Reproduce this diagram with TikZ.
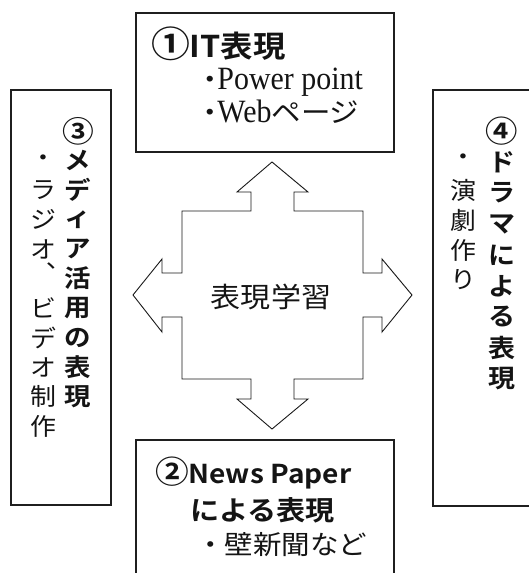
\documentclass[tikz,border=0pt]{standalone}
\usepackage{fontspec}
\newfontfamily\jp[FakeStretch=1.08,BoldFont={Noto Sans CJK JP Bold}]{Noto Sans CJK JP}
\newfontfamily\ser[FakeStretch=0.92]{Liberation Serif}
\newcommand\fsz[1]{\fontsize{#1pt}{#1pt}\selectfont}
\newcommand\bignum[1]{\scalebox{1.2}{#1}}
\tikzset{
  frame/.style={draw=black!88, line width=1.3pt},
  crossline/.style={draw=black!90, line width=0.9pt, line join=miter},
  txt/.style={inner sep=0pt, outer sep=0pt, text=black!92},
  vbold/.style={txt, font=\jp\bfseries\fsz{24.5}},
  vboldR/.style={txt, font=\jp\bfseries\fsz{25}},
  vreg/.style={txt, font=\jp\fsz{24}},
}
\begin{document}
\begin{tikzpicture}[x=1pt,y=-1pt]
\fill[white] (0,0) rectangle (529,573);
\useasboundingbox (0,0) rectangle (529,573);
% boxes
\node[frame, minimum width=258pt, minimum height=139pt, inner sep=0pt] (boxIT) at (265,82.5) {};
\node[frame, minimum width=100pt, minimum height=415pt, inner sep=0pt] (boxMedia) at (61,297.5) {};
\draw[frame] (545,90) -- (433,90) -- (433,506) -- (545,506);
\draw[frame] (136,590) -- (136,440) -- (394,440) -- (394,590);
% four-way arrow
\draw[crossline] (272,162) -- (308,192) -- (294,192) -- (294,211) -- (363,211) -- (363,273)
  -- (382,273) -- (382,259) -- (412,295) -- (382,332) -- (382,317) -- (363,317) -- (363,379)
  -- (294,379) -- (294,399) -- (308,399) -- (272,429) -- (237,399) -- (251,399) -- (251,379)
  -- (182,379) -- (182,317) -- (162,317) -- (162,332) -- (133,295) -- (162,259) -- (162,273)
  -- (182,273) -- (182,211) -- (251,211) -- (251,192) -- (237,192) -- cycle;
\node[txt, font=\jp\fsz{27.8}] (center) at (271,297) {表現学習};
% top box text
\node[txt, anchor=base west, font=\jp\bfseries\fsz{30}] (itT) at (151,57) {\bignum{①}IT表現};
\node[txt, anchor=base west] (itA) at (195,89) {{\jp\fsz{27.3}・}\kern-7pt{\ser\fsz{32.5}Power point}};
\node[txt, anchor=base west] (itB) at (195,122) {{\jp\fsz{27.3}・}\kern-7pt{\ser\fsz{32.5}Web}{\jp\fsz{27.3}ページ}};
% bottom box text
\node[txt, anchor=base west, font=\jp\bfseries\fsz{26}] (npA) at (155,483) {\bignum{②}News Paper};
\node[txt, anchor=base west, font=\jp\bfseries\fsz{27}] (npB) at (190,520) {による表現};
\node[txt, anchor=base west, font=\jp\fsz{26.4}] (npC) at (196,554.5) {・壁新聞など};
% left box vertical text
\foreach \c [count=\i from 0] in {\bignum{③},メ,デ,ィ,ア,活,用,の,表,現}
  \node[vbold] (md\i) at (78,131+29.5*\i) {\c};
\foreach \c/\y [count=\i] in {・/160.5,ラ/190,ジ/219.5,オ/249,︑/273,ビ/308,デ/337.5,オ/367,制/396.5,作/426}
  \node[vreg] (mv\i) at (43.5,\y) {\c};
% right box vertical text
\foreach \c [count=\i from 0] in {\bignum{④},ド,ラ,マ,に,よ,る,表,現}
  \node[vboldR] (dr\i) at (502,131+31*\i) {\c};
\foreach \c [count=\i from 0] in {・,演,劇,作,り}
  \node[vreg] (dv\i) at (463,160+30*\i) {\c};
\end{tikzpicture}
\end{document}
